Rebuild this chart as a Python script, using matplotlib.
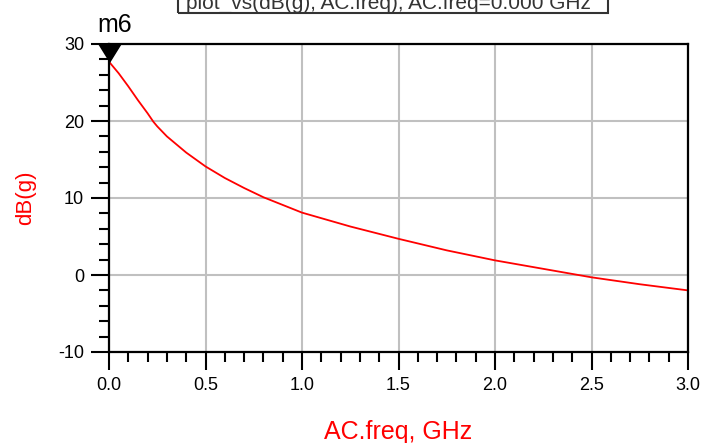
import matplotlib
matplotlib.use("Agg")
import matplotlib.pyplot as plt
from matplotlib.patches import Rectangle
from matplotlib.ticker import MultipleLocator

# curve
freq_ghz = [0.0, 0.05, 0.1, 0.15, 0.2, 0.23, 0.25, 0.3, 0.4, 0.5, 0.6, 0.7,
            0.8, 0.9, 1.0, 1.25, 1.5, 1.75, 2.0, 2.25, 2.5, 2.75, 3.0]
gain_db = [27.7, 26.2, 24.5, 22.7, 21.0, 19.9, 19.3, 18.0, 15.9, 14.1, 12.6, 11.3,
           10.1, 9.1, 8.1, 6.3, 4.7, 3.2, 1.9, 0.8, -0.3, -1.2, -2.0]
marker_name = "m6"
top_text = "plot_vs(dB(g), AC.freq), AC.freq=0.000 GHz"

W, H = 703, 443
fig = plt.figure(figsize=(W / 100, H / 100), dpi=100)
plt.rcParams['font.family'] = ['Liberation Sans', 'DejaVu Sans']
plt.rcParams['axes.unicode_minus'] = False

# axes box in pixels: left 109, right 688, top 44, bottom 352
ax = fig.add_axes([109 / W, 1 - 352 / H, (688 - 109) / W, (352 - 44) / H])

ax.plot(freq_ghz, gain_db, color="red", lw=1.3)

# marker, tip sits on the first point
tri = [(-0.62, 1.0), (0.62, 1.0), (0.0, 0.0)]
ax.plot([freq_ghz[0]], [gain_db[0]], marker=tri, markersize=27, color="black",
        clip_on=False, zorder=5, lw=0)
ax.text(0.03, 30.9, marker_name, fontsize=18, ha="center", va="bottom")

ax.set_xlim(0, 3)
ax.set_ylim(-10, 30)
ax.xaxis.set_major_locator(MultipleLocator(0.5))
ax.xaxis.set_minor_locator(MultipleLocator(0.1))
ax.yaxis.set_major_locator(MultipleLocator(10))
ax.yaxis.set_minor_locator(MultipleLocator(2))
ax.xaxis.set_major_formatter(plt.FuncFormatter(lambda v, p: "%.1f" % v))

ax.grid(True, which="major", color="#c0c0c0", lw=1.5)
ax.set_axisbelow(True)
ax.tick_params(which="major", direction="out", length=13, width=1.5,
               labelsize=13, pad=5, color="black")
ax.tick_params(which="minor", direction="out", length=7, width=1.5, color="black")
for s in ax.spines.values():
    s.set_linewidth(1.6)

ax.set_xlabel("AC.freq, GHz", color="red", fontsize=18, labelpad=19)
ax.set_ylabel("dB(g)", color="red", fontsize=16, labelpad=16)

# equation box clipped at the top edge, as in the reference
fig.patches.append(Rectangle((178, H - 13), 430, 30, transform=None,
                             fill=False, ec="#333333", lw=1.5))
fig.text(388 / W, 1 - 9 / H, top_text, fontsize=15, ha="center", va="baseline",
         color="#333333")

fig.savefig("out.png", dpi=100)
